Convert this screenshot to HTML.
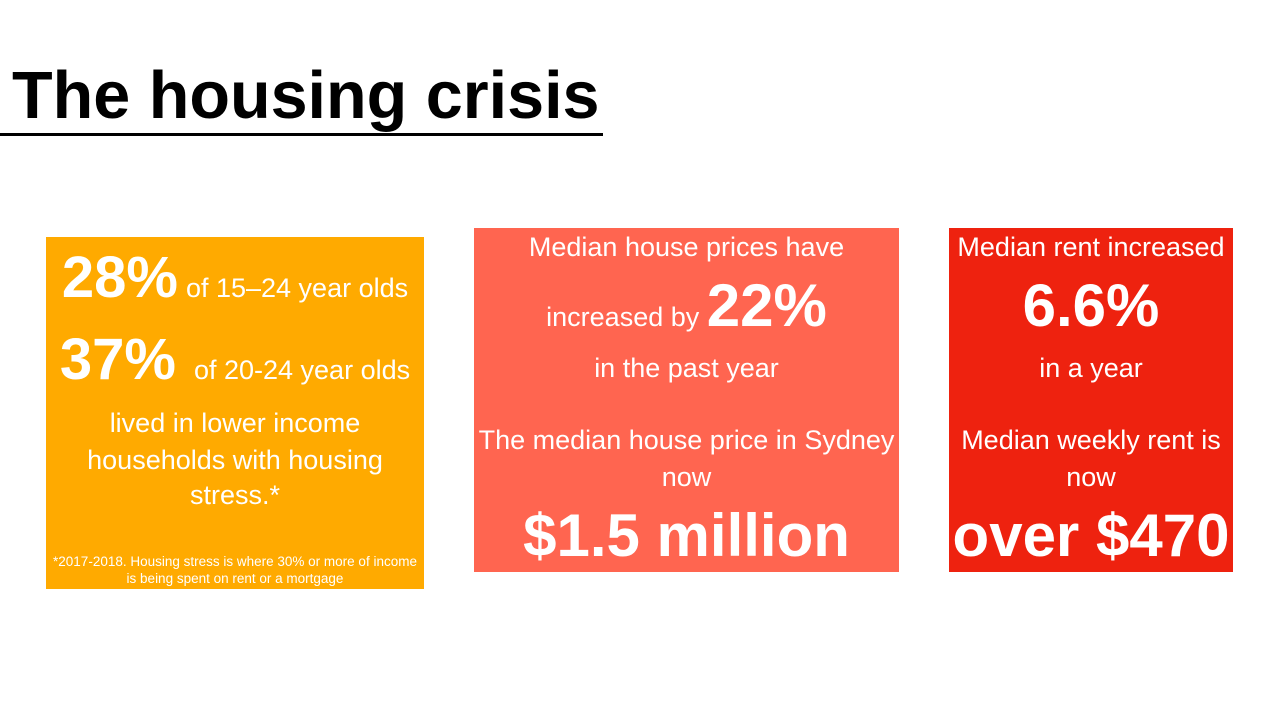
<!DOCTYPE html>
<html><head><meta charset="utf-8"><style>
body{margin:0;width:1280px;height:720px;background:#fff;position:relative;overflow:hidden;font-family:"Liberation Sans",Arial,sans-serif}
.t{position:absolute;left:12px;top:63px;font-size:66.5px;font-weight:bold;line-height:1;color:#000}
.u{position:absolute;left:0;top:133px;width:603px;height:3px;background:#000}
.box{position:absolute}
.l{position:absolute;left:0;right:0;text-align:center;color:#fff;line-height:1;white-space:nowrap}
.s{font-size:27px}
.b{font-size:60px;font-weight:bold}
.b span{font-size:27px;font-weight:normal}
</style></head><body>
<div class="t">The housing crisis</div>
<div class="u"></div>

<div class="box" style="left:46px;top:237px;width:378px;height:352px;background:#FFAA00"></div>
<div class="box" style="left:474px;top:228px;width:425px;height:344px;background:#FF6550"></div>
<div class="box" style="left:949px;top:228px;width:284px;height:344px;background:#EE220F"></div>

<div style="position:absolute;left:46px;top:0;width:378px;height:720px">
<div class="l b" style="top:249px;font-size:58px">28%<span style="margin-left:8px">of 15–24 year olds</span></div>
<div class="l b" style="top:331px;font-size:58px">37%<span style="margin-left:18px">of 20-24 year olds</span></div>
<div class="l s" style="top:410px">lived in lower income</div>
<div class="l s" style="top:447px">households with housing</div>
<div class="l s" style="top:482px">stress.*</div>
<div class="l" style="top:555px;font-size:13.5px">*2017-2018. Housing stress is where 30% or more of income</div>
<div class="l" style="top:572px;font-size:13.5px">is being spent on rent or a mortgage</div>
</div>

<div style="position:absolute;left:474px;top:0;width:425px;height:720px">
<div class="l s" style="top:234px">Median house prices have</div>
<div class="l b" style="top:276px"><span>increased by </span>22%</div>
<div class="l s" style="top:355px">in the past year</div>
<div class="l s" style="top:427px">The median house price in Sydney</div>
<div class="l s" style="top:464px">now</div>
<div class="l b" style="top:506px">$1.5 million</div>
</div>

<div style="position:absolute;left:949px;top:0;width:284px;height:720px">
<div class="l s" style="top:234px">Median rent increased</div>
<div class="l b" style="top:276px">6.6%</div>
<div class="l s" style="top:355px">in a year</div>
<div class="l s" style="top:427px">Median weekly rent is</div>
<div class="l s" style="top:464px">now</div>
<div class="l b" style="top:506px">over $470</div>
</div>
</body></html>
